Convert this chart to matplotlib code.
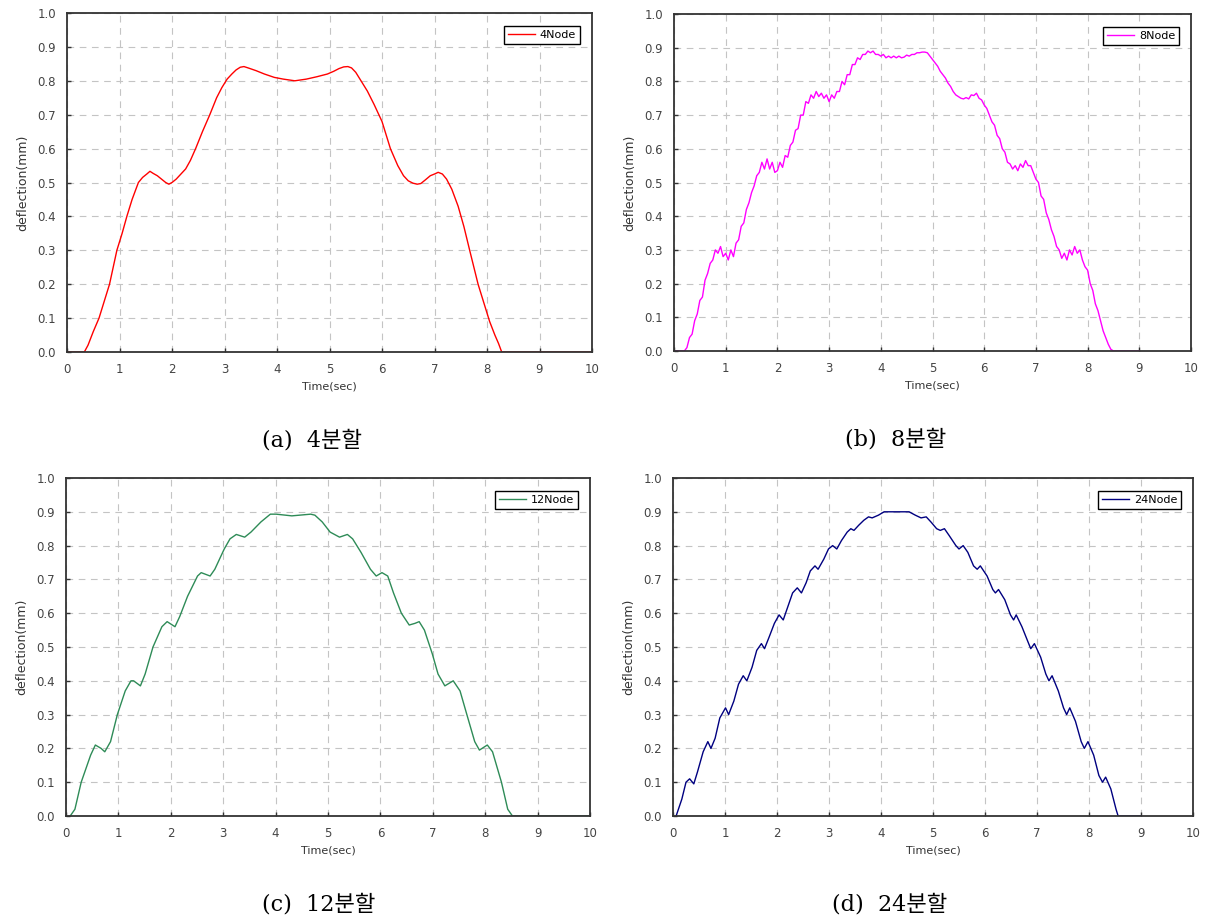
import matplotlib.pyplot as plt
import numpy as np

# 4Node
t_4 = [0, 0.33, 0.4, 0.5, 0.61, 0.71, 0.81, 0.95, 1.05, 1.14,
       1.24, 1.3, 1.36, 1.44, 1.52, 1.58, 1.64, 1.72, 1.8, 1.88,
       1.94, 2.0, 2.08, 2.17, 2.26, 2.35, 2.45, 2.58, 2.72, 2.85,
       2.95, 3.05, 3.14, 3.22, 3.3, 3.37, 3.45, 3.6, 3.76, 3.95,
       4.12, 4.34, 4.56, 4.76, 4.96, 5.08, 5.18, 5.27, 5.35, 5.42,
       5.5, 5.6, 5.72, 5.85, 6.0, 6.16, 6.3, 6.41, 6.5, 6.59,
       6.67, 6.74, 6.82, 6.92, 7.0, 7.07, 7.15, 7.23, 7.33, 7.45,
       7.56, 7.67, 7.83, 7.95, 8.05, 8.15, 8.22, 8.28, 10]
y_4 = [0, 0, 0.02, 0.06, 0.1, 0.15, 0.2, 0.3, 0.35, 0.4,
       0.45, 0.475, 0.5, 0.515, 0.525, 0.533, 0.527, 0.52, 0.51, 0.5,
       0.495, 0.5, 0.51, 0.525, 0.54, 0.565, 0.6, 0.65, 0.7, 0.75,
       0.78, 0.805, 0.82, 0.832, 0.84, 0.842, 0.838, 0.83, 0.82, 0.81,
       0.805, 0.80, 0.805, 0.812, 0.82, 0.828, 0.836, 0.841, 0.842, 0.838,
       0.825, 0.80, 0.77, 0.73, 0.68, 0.6, 0.55, 0.52, 0.505, 0.498,
       0.495, 0.497, 0.507, 0.52, 0.525, 0.53, 0.525, 0.51, 0.48, 0.43,
       0.37, 0.3, 0.2, 0.14, 0.09, 0.05, 0.025, 0, 0]

# 8Node, sampled every 0.05 s
y_8 = [0, 0, 0, 0, 0, 0.01, 0.04, 0.05, 0.09, 0.11,
       0.15, 0.16, 0.21, 0.23, 0.26, 0.27, 0.30, 0.29, 0.31, 0.28,
       0.29, 0.27, 0.30, 0.28, 0.32, 0.33, 0.37, 0.38, 0.42, 0.44,
       0.47, 0.49, 0.52, 0.53, 0.56, 0.54, 0.57, 0.54, 0.56, 0.53,
       0.535, 0.56, 0.545, 0.58, 0.575, 0.61, 0.62, 0.655, 0.66, 0.70,
       0.70, 0.74, 0.735, 0.76, 0.75, 0.77, 0.755, 0.765, 0.75, 0.76,
       0.74, 0.76, 0.75, 0.77, 0.77, 0.80, 0.79, 0.82, 0.82, 0.85,
       0.85, 0.87, 0.865, 0.88, 0.88, 0.89, 0.885, 0.89, 0.88, 0.88,
       0.875, 0.88, 0.87, 0.875, 0.87, 0.875, 0.87, 0.875, 0.87, 0.872,
       0.878, 0.875, 0.88, 0.88, 0.885, 0.885, 0.887, 0.887, 0.885, 0.875,
       0.865, 0.855, 0.845, 0.83, 0.82, 0.81, 0.795, 0.785, 0.77, 0.76,
       0.755, 0.75, 0.748, 0.752, 0.748, 0.76, 0.758, 0.765, 0.75, 0.745,
       0.73, 0.72, 0.70, 0.68, 0.67, 0.64, 0.63, 0.60, 0.59, 0.56,
       0.555, 0.54, 0.55, 0.535, 0.555, 0.545, 0.565, 0.55, 0.55, 0.53,
       0.51, 0.50, 0.46, 0.45, 0.41, 0.39, 0.36, 0.34, 0.31, 0.30,
       0.275, 0.29, 0.27, 0.30, 0.285, 0.31, 0.29, 0.30, 0.27, 0.25,
       0.24, 0.20, 0.18, 0.14, 0.12, 0.09, 0.06, 0.04, 0.02, 0.005,
       0, 0, 0, 0, 0, 0, 0, 0, 0, 0, 0]
t_8 = np.round(np.arange(len(y_8)) * 0.05, 2)

# 12Node
t_12 = [0.08, 0.17, 0.29, 0.38, 0.47, 0.56, 0.67, 0.74, 0.85, 0.98, 1.13, 1.24, 1.29, 1.42,
        1.51, 1.66, 1.83, 1.93, 2.08, 2.17, 2.32, 2.51, 2.58, 2.75, 2.84, 3.02, 3.13, 3.25,
        3.41, 3.53, 3.72, 3.9, 4.01, 4.31, 4.67, 4.75, 4.89, 5.04, 5.22, 5.37, 5.47, 5.63,
        5.81, 5.92, 6.03, 6.14, 6.25, 6.4, 6.55, 6.66, 6.74, 6.84, 6.99, 7.1, 7.23, 7.39,
        7.52, 7.65, 7.8, 7.89, 8.04, 8.14, 8.31, 8.43, 8.52, 10]
y_12 = [0, 0.02, 0.1, 0.14, 0.18, 0.21, 0.2, 0.19, 0.22, 0.3, 0.37, 0.40, 0.40, 0.385,
        0.42, 0.5, 0.56, 0.575, 0.56, 0.59, 0.65, 0.71, 0.72, 0.71, 0.73, 0.79, 0.82, 0.833,
        0.825, 0.84, 0.87, 0.893, 0.893, 0.888, 0.893, 0.89, 0.87, 0.84, 0.825, 0.833, 0.82, 0.78,
        0.73, 0.71, 0.72, 0.71, 0.66, 0.60, 0.565, 0.57, 0.575, 0.55, 0.48, 0.42, 0.385, 0.40,
        0.37, 0.3, 0.22, 0.195, 0.21, 0.19, 0.10, 0.02, 0, 0]

# 24Node
t_24 = [0.06, 0.17, 0.25, 0.32, 0.40, 0.47, 0.58, 0.67, 0.73, 0.81, 0.9, 1.01, 1.07, 1.17,
        1.26, 1.35, 1.42, 1.52, 1.61, 1.7, 1.76, 1.85, 1.95, 2.04, 2.12, 2.21, 2.3, 2.39,
        2.47, 2.56, 2.64, 2.73, 2.79, 2.9, 2.99, 3.07, 3.15, 3.24, 3.35, 3.42, 3.48, 3.57,
        3.67, 3.76, 3.83, 3.95, 4.06, 4.21, 4.54, 4.66, 4.77, 4.87, 4.96, 5.07, 5.14, 5.22,
        5.31, 5.44, 5.5, 5.58, 5.67, 5.78, 5.85, 5.91, 6.04, 6.15, 6.2, 6.26, 6.38, 6.49,
        6.55, 6.6, 6.71, 6.84, 6.88, 6.95, 7.07, 7.17, 7.23, 7.29, 7.41, 7.51, 7.57, 7.63,
        7.74, 7.85, 7.91, 7.98, 8.09, 8.19, 8.26, 8.32, 8.42, 8.52, 8.56, 9.0]
y_24 = [0, 0.05, 0.1, 0.11, 0.095, 0.13, 0.19, 0.22, 0.20, 0.23, 0.29, 0.32, 0.30, 0.34,
        0.39, 0.415, 0.40, 0.44, 0.49, 0.51, 0.495, 0.53, 0.57, 0.595, 0.58, 0.62, 0.66, 0.675,
        0.66, 0.69, 0.725, 0.74, 0.73, 0.76, 0.79, 0.80, 0.79, 0.815, 0.84, 0.85, 0.845, 0.86,
        0.875, 0.885, 0.882, 0.89, 0.90, 0.90, 0.90, 0.89, 0.882, 0.885, 0.87, 0.85, 0.845, 0.85,
        0.83, 0.80, 0.79, 0.80, 0.78, 0.74, 0.73, 0.74, 0.71, 0.67, 0.66, 0.67, 0.64, 0.595,
        0.58, 0.595, 0.56, 0.51, 0.495, 0.51, 0.47, 0.42, 0.40, 0.415, 0.37, 0.32, 0.30, 0.32,
        0.28, 0.22, 0.20, 0.22, 0.18, 0.12, 0.10, 0.115, 0.08, 0.02, 0, 0]

# (series, label, colour, caption, axes box in px, caption centre x in px)
panels = [
    (t_4, y_4, "4Node", "#ff0000", "(a)  4분할", [67, 13, 592, 352], 312),
    (t_8, y_8, "8Node", "#ff00ff", "(b)  8분할", [674, 14, 1191, 351], 896),
    (t_12, y_12, "12Node", "#2e8b57", "(c)  12분할", [66, 478, 590, 816], 319),
    (t_24, y_24, "24Node", "#000080", "(d)  24분할", [673, 478, 1193, 816], 890),
]

W, H = 1211, 916
fig = plt.figure(figsize=(W / 100, H / 100), dpi=100)

for t, y, name, color, caption, (x0, y0, x1, y1), capx in panels:
    ax = fig.add_axes([x0 / W, 1 - y1 / H, (x1 - x0) / W, (y1 - y0) / H])
    ax.plot(t, y, color=color, linewidth=1.0, label=name)
    ax.set_xlim(0, 10)
    ax.set_ylim(0, 1.0)
    ax.set_xticks(range(0, 11))
    ax.set_yticks(np.arange(0, 1.01, 0.1))
    ax.set_yticklabels(["%.1f" % v for v in np.arange(0, 1.01, 0.1)])
    ax.tick_params(direction="in", length=3, width=1.0, color="#333333",
                   labelsize=8.5, pad=8, labelcolor="#444444")
    ax.grid(True, linestyle=(0, (6, 5)), color="#c4c4c4", linewidth=0.8)
    ax.set_axisbelow(True)
    for s in ax.spines.values():
        s.set_color("#333333")
        s.set_linewidth(1.3)
    ax.set_xlabel("Time(sec)", fontsize=8, labelpad=4, color="#333333")
    ax.set_ylabel("deflection(mm)", fontsize=9, labelpad=6, color="#333333")
    leg = ax.legend(loc="upper right", bbox_to_anchor=(1 - 12 / (x1 - x0), 1 - 13 / (y1 - y0)),
                    borderaxespad=0, fontsize=8, fancybox=False, framealpha=1,
                    handlelength=2.5, borderpad=0.35, handletextpad=0.4)
    leg.get_frame().set_edgecolor("#000000")
    leg.get_frame().set_linewidth(1.0)
    fig.text(capx / W, 1 - (y1 + 88) / H, caption, ha="center", va="center", fontsize=16,
             family=["DejaVu Serif", "Noto Sans CJK KR"])

fig.savefig("out.png", dpi=100, facecolor="white")
